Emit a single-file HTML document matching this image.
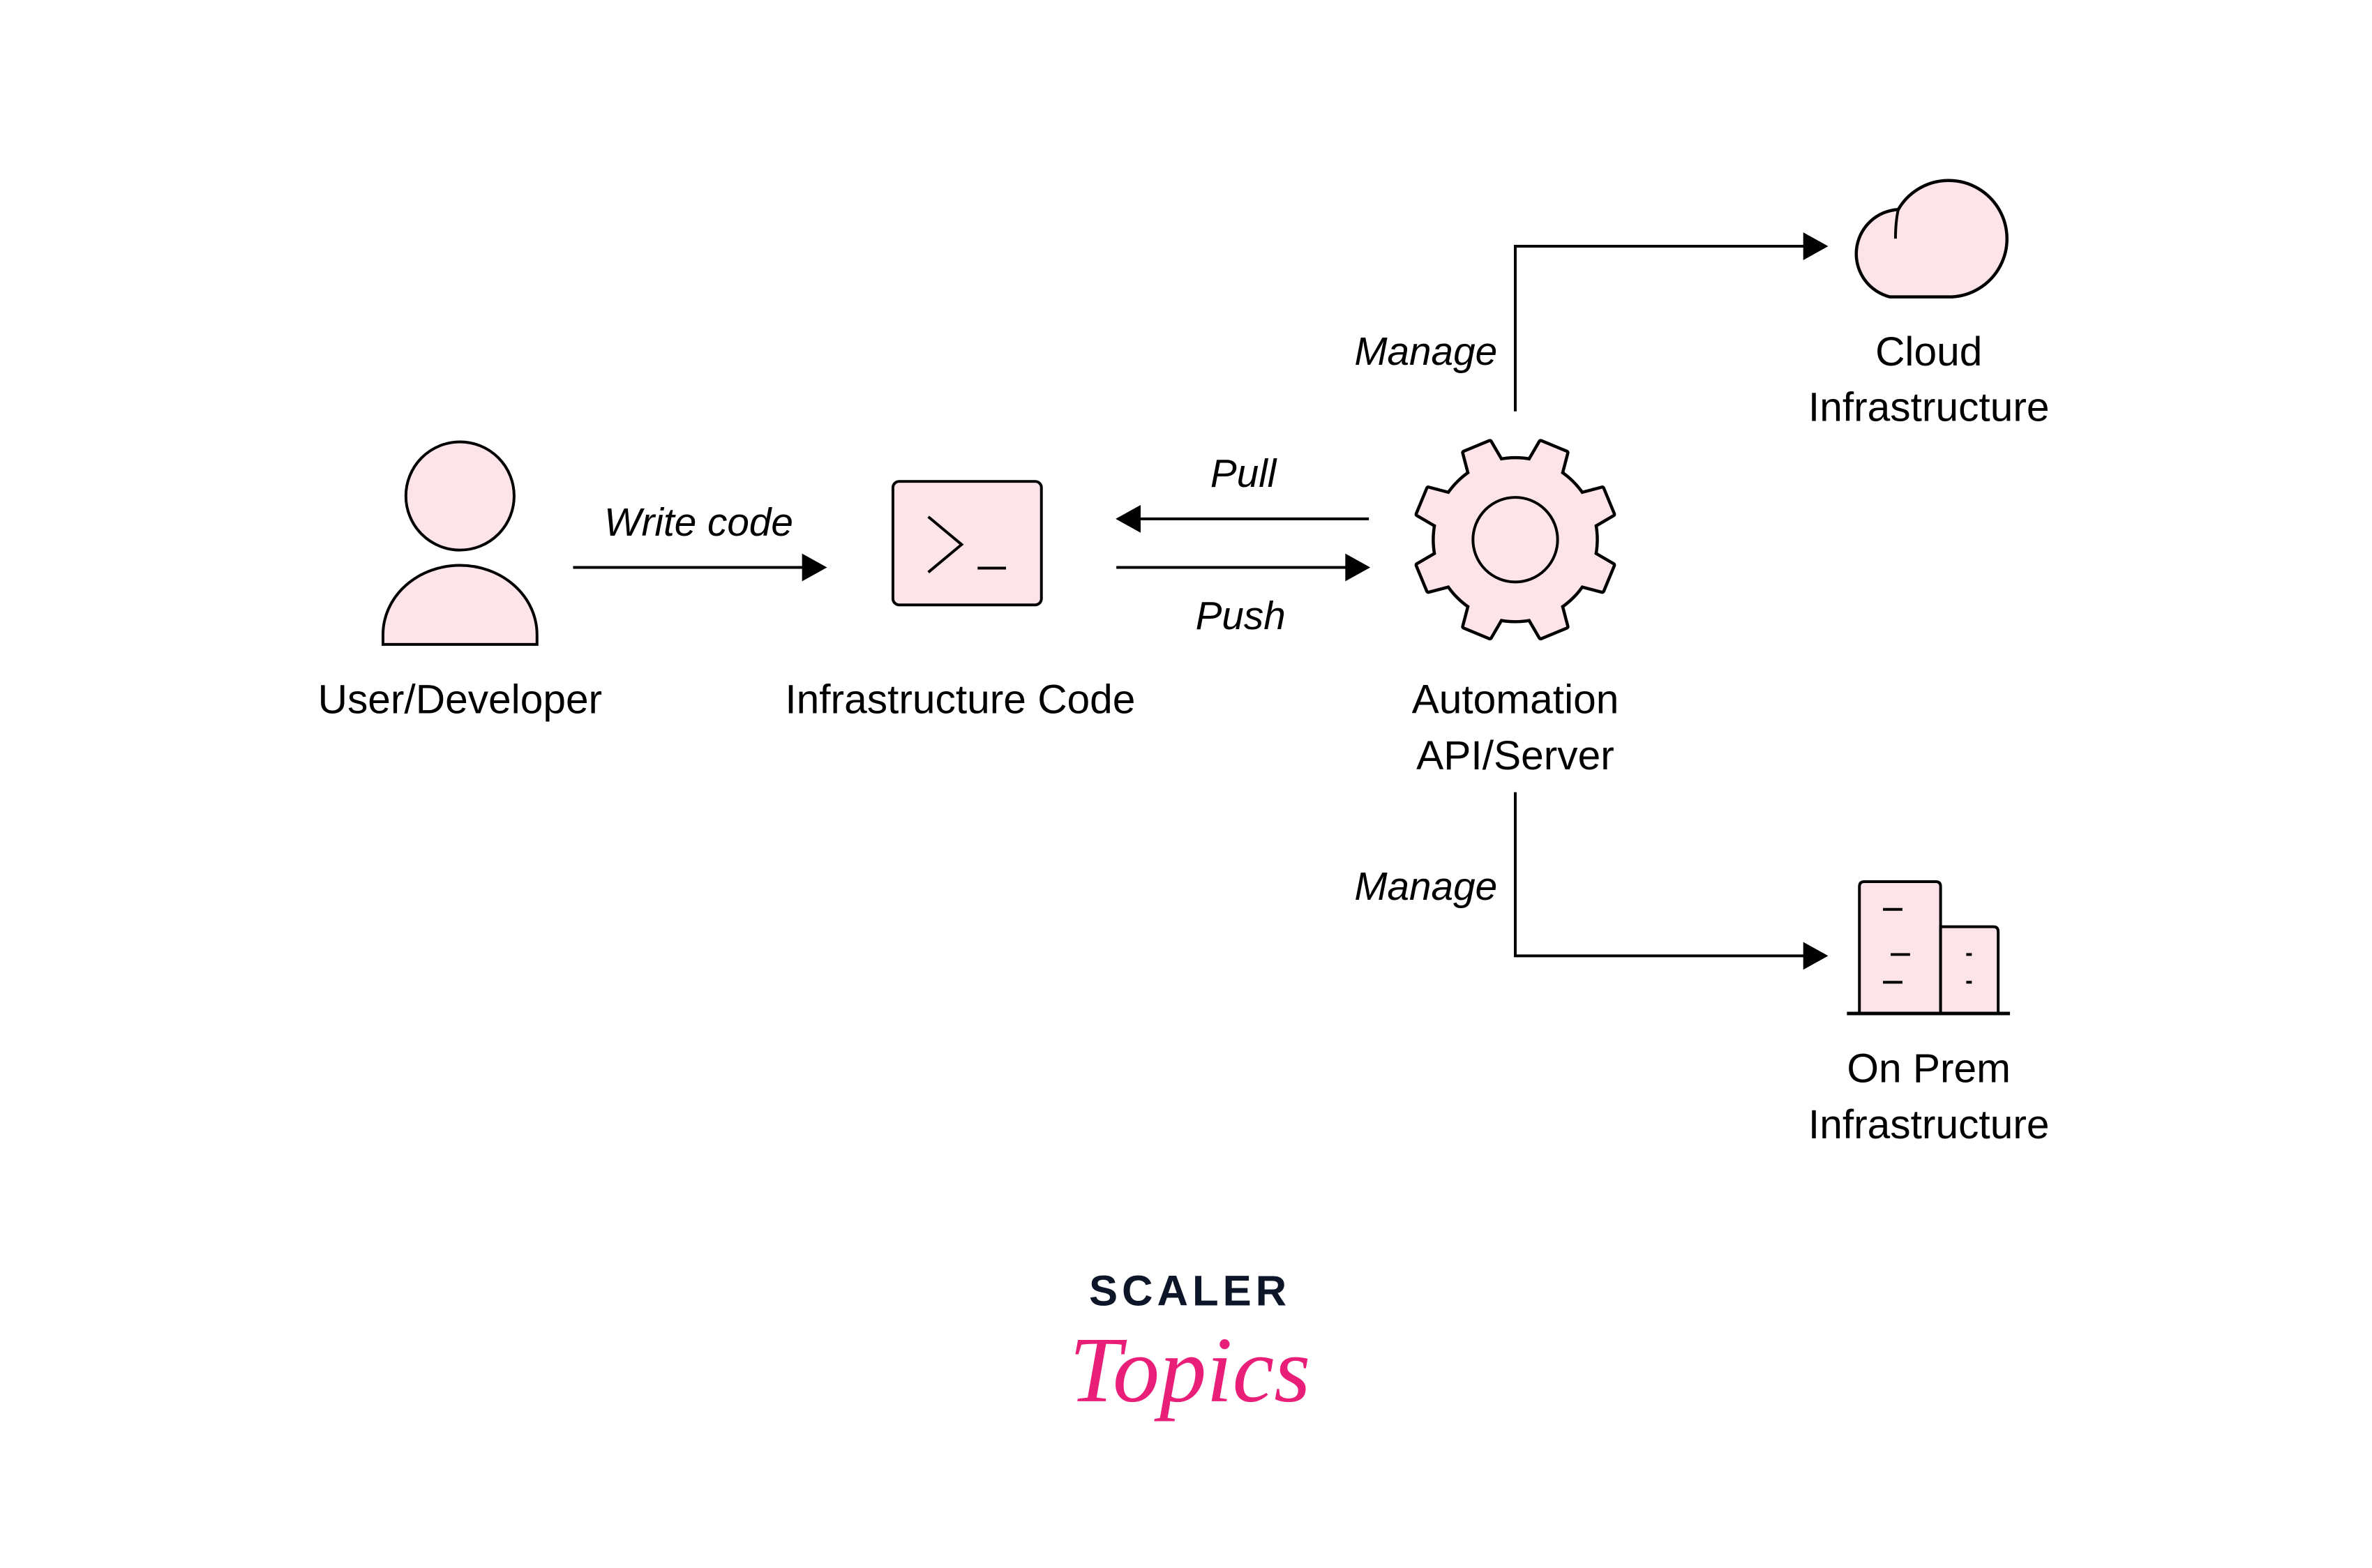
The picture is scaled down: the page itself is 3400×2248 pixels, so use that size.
<!DOCTYPE html>
<html><head><meta charset="utf-8"><style>
html,body{margin:0;padding:0;background:#fff;}
svg{display:block}
text{font-family:"Liberation Sans",sans-serif;fill:#000}
</style></head><body>
<svg width="3400" height="2248" viewBox="0 0 3400 2248" xmlns="http://www.w3.org/2000/svg">
<defs>
<g id="teeth">
  <polygon points="-26,-100 26,-100 20,-144 -20,-144"/>
</g>
</defs>
<rect width="3400" height="2248" fill="#fff"/>
<g transform="scale(0.9945)">
<!-- Person -->
<circle cx="663" cy="715" r="78" fill="#fde4e8" stroke="#000" stroke-width="4"/>
<path d="M552,929 L552,915 A111,100 0 0 1 774,915 L774,929 Z" fill="#fde4e8" stroke="#000" stroke-width="4"/>
<text x="663" y="1028" font-size="59" text-anchor="middle">User/Developer</text>

<!-- Write code arrow -->
<line x1="826" y1="818" x2="1160" y2="818" stroke="#000" stroke-width="4"/>
<polygon points="1192,818 1156,798 1156,838" fill="#000"/>
<text x="1007" y="772" font-size="57" font-style="italic" text-anchor="middle">Write code</text>

<!-- Terminal -->
<rect x="1287" y="694" width="214" height="178" rx="9" fill="#fde4e8" stroke="#000" stroke-width="4"/>
<polyline points="1338,745 1386,785 1338,825" fill="none" stroke="#000" stroke-width="4"/>
<line x1="1409" y1="819" x2="1450" y2="819" stroke="#000" stroke-width="4"/>
<text x="1384" y="1028" font-size="59" text-anchor="middle">Infrastructure Code</text>

<!-- Pull / Push -->
<line x1="1973" y1="748" x2="1640" y2="748" stroke="#000" stroke-width="4"/>
<polygon points="1608,748 1644,728 1644,768" fill="#000"/>
<text x="1792" y="702" font-size="57" font-style="italic" text-anchor="middle">Pull</text>
<line x1="1609" y1="818" x2="1942" y2="818" stroke="#000" stroke-width="4"/>
<polygon points="1975,818 1939,798 1939,838" fill="#000"/>
<text x="1788" y="907" font-size="57" font-style="italic" text-anchor="middle">Push</text>

<!-- Gear -->
<g transform="translate(2184,778)">
  <g stroke="#000" stroke-width="9" stroke-linejoin="round" fill="#000">
    <circle r="116"/>
    <use href="#teeth" transform="rotate(22.5)"/><use href="#teeth" transform="rotate(67.5)"/>
    <use href="#teeth" transform="rotate(112.5)"/><use href="#teeth" transform="rotate(157.5)"/>
    <use href="#teeth" transform="rotate(202.5)"/><use href="#teeth" transform="rotate(247.5)"/>
    <use href="#teeth" transform="rotate(292.5)"/><use href="#teeth" transform="rotate(337.5)"/>
  </g>
  <g fill="#fde4e8" stroke="none">
    <circle r="116"/>
    <use href="#teeth" transform="rotate(22.5)"/><use href="#teeth" transform="rotate(67.5)"/>
    <use href="#teeth" transform="rotate(112.5)"/><use href="#teeth" transform="rotate(157.5)"/>
    <use href="#teeth" transform="rotate(202.5)"/><use href="#teeth" transform="rotate(247.5)"/>
    <use href="#teeth" transform="rotate(292.5)"/><use href="#teeth" transform="rotate(337.5)"/>
  </g>
  <circle r="61" fill="#fde4e8" stroke="#000" stroke-width="4"/>
</g>
<text x="2184" y="1028" font-size="59" text-anchor="middle">Automation</text>
<text x="2184" y="1109" font-size="59" text-anchor="middle">API/Server</text>

<!-- Manage top -->
<polyline points="2184,593 2184,355 2600,355" fill="none" stroke="#000" stroke-width="4"/>
<polygon points="2635,355 2599,335 2599,375" fill="#000"/>
<text x="2158" y="526" font-size="57" font-style="italic" text-anchor="end">Manage</text>

<!-- Cloud -->
<g transform="translate(-16,0)">
<path d="M2740,428 L2830,428 A84,84 0 1 0 2752,302 A64,64 0 0 0 2740,428 Z" fill="#fde4e8" stroke="#000" stroke-width="4.5"/>
<path d="M2752,302 Q2748,320 2748,344" fill="none" stroke="#000" stroke-width="4"/>
</g>
<text x="2780" y="527" font-size="59" text-anchor="middle">Cloud</text>
<text x="2780" y="607" font-size="59" text-anchor="middle">Infrastructure</text>

<!-- Manage bottom -->
<polyline points="2184,1142 2184,1378 2600,1378" fill="none" stroke="#000" stroke-width="4"/>
<polygon points="2635,1378 2599,1358 2599,1398" fill="#000"/>
<text x="2158" y="1297" font-size="57" font-style="italic" text-anchor="end">Manage</text>

<!-- Buildings -->
<path d="M2680,1461 L2680,1278 Q2680,1271 2687,1271 L2790,1271 Q2797,1271 2797,1278 L2797,1461 Z" fill="#fde4e8" stroke="#000" stroke-width="4"/>
<path d="M2797,1461 L2797,1336 L2873,1336 Q2880,1336 2880,1343 L2880,1461 Z" fill="#fde4e8" stroke="#000" stroke-width="4"/>
<line x1="2662" y1="1461" x2="2897" y2="1461" stroke="#000" stroke-width="5"/>
<g stroke="#000" stroke-width="4">
<line x1="2714" y1="1311" x2="2742" y2="1311"/>
<line x1="2725" y1="1376" x2="2753" y2="1376"/>
<line x1="2714" y1="1416" x2="2742" y2="1416"/>
<line x1="2834" y1="1376" x2="2842" y2="1376"/>
<line x1="2834" y1="1416" x2="2842" y2="1416"/>
</g>
<text x="2780" y="1560" font-size="59" text-anchor="middle">On Prem</text>
<text x="2780" y="1641" font-size="59" text-anchor="middle">Infrastructure</text>

<!-- Logo -->
<text x="1715" y="1882" font-size="62" font-weight="bold" text-anchor="middle" letter-spacing="6" style="fill:#0d1628">SCALER</text>
<text x="1715" y="2020" font-size="135" font-style="italic" text-anchor="middle" style="fill:#e91e78;font-family:'Liberation Serif',serif">Topics</text>
</g>
</svg>
</body></html>
